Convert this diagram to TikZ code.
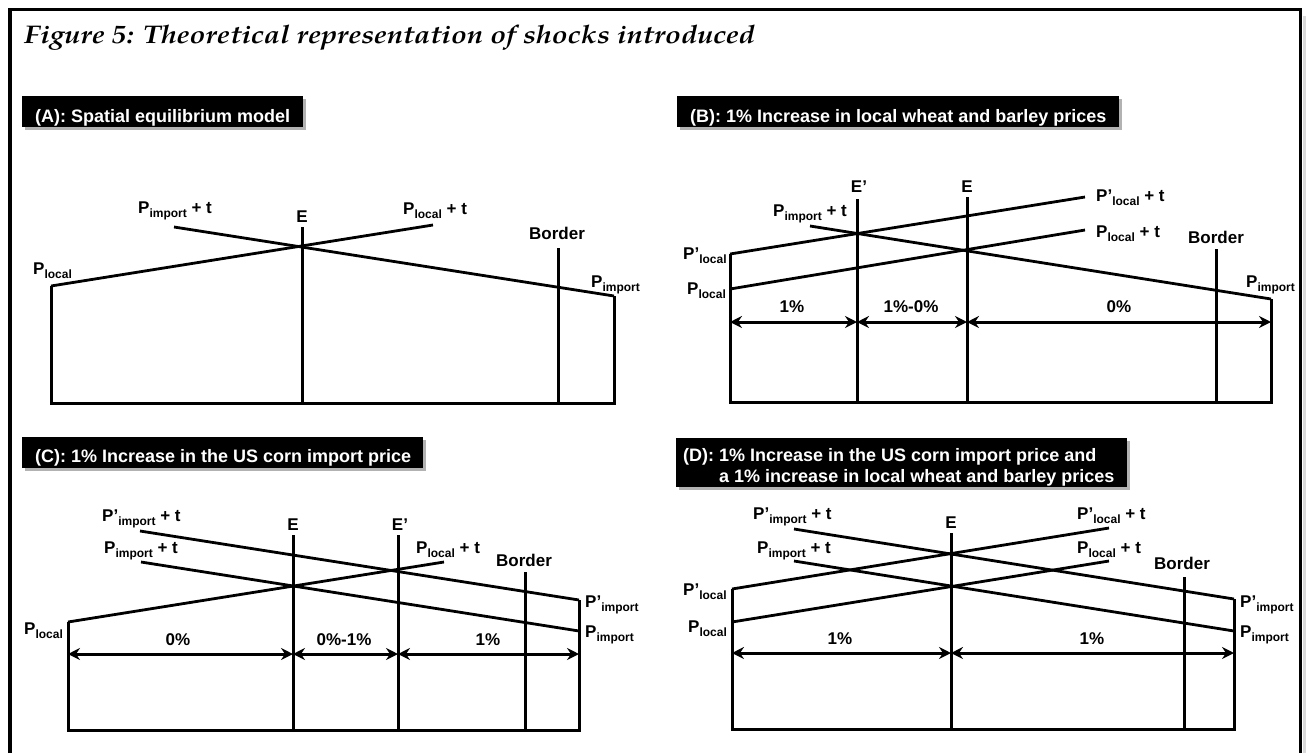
\documentclass[tikz,border=0pt]{standalone}
\usepackage{fontspec}
\setmainfont{Liberation Sans}
\newfontfamily\capfont[FakeStretch=1.13]{TeX Gyre Pagella}
\usetikzlibrary{arrows.meta,shadows}

\newcommand\lblfont{\fontsize{17}{20}\selectfont\bfseries}
\newcommand\hdrfont{\fontsize{18}{21}\selectfont\bfseries}
\newcommand\lo[1]{\raisebox{-4pt}{\fontsize{12}{12}\selectfont #1}}

\tikzset{
  wall/.style={line width=3pt},
  curve/.style={line width=2.8pt},
  dim/.style={line width=3pt, {Stealth[length=12pt,width=12pt,inset=4pt]}-{Stealth[length=12pt,width=12pt,inset=4pt]}},
  lbl/.style={anchor=base west, inner sep=0pt, font=\lblfont},
  clbl/.style={anchor=base, inner sep=0pt, font=\lblfont},
  hdr/.style={anchor=north west, fill=black, inner sep=0pt,
    drop shadow={shadow xshift=3pt, shadow yshift=-3pt, fill=gray!60, opacity=1}},
  hdrtxt/.style={anchor=base west, inner sep=0pt, text=white, font=\hdrfont},
}

\begin{document}
\begin{tikzpicture}[x=1pt, y=-1pt]
    \useasboundingbox (0,0) rectangle (1306,753);
    \fill[gray!30] (1302.5,16) rectangle (1306,753);
    \draw[line width=3.2pt] (10,753) -- (10,9.7) -- (1300.5,9.7) -- (1300.5,753);
    \node[anchor=base west, inner sep=0pt, font=\capfont\fontsize{25.5}{30}\selectfont\bfseries\itshape] (title) at (24,43)
        {Figure 5: Theoretical representation of shocks introduced};

    % panel A
    \node[hdr, minimum width=281pt, minimum height=31pt] (hdrA) at (22,96) {};
    \node[hdrtxt] (hdrAtxt) at (35,122) {(A): Spatial equilibrium model};
    \coordinate (aLt) at (51,286);  \coordinate (aLb) at (51,403);
    \coordinate (aRt) at (614,296); \coordinate (aRb) at (614,403);
    \coordinate (aEt) at (302,227); \coordinate (aEb) at (302,403);
    \coordinate (aBt) at (558,248); \coordinate (aBb) at (558,403);
    \coordinate (aLoc) at (433,225); \coordinate (aImp) at (174,227);
    \draw[wall] (aLt) -- (aLb) -- (aRb) -- (aRt);
    \draw[wall] (aEt) -- (aEb);
    \draw[wall] (aBt) -- (aBb);
    \draw[curve] (aLt) -- (aLoc);
    \draw[curve] (aImp) -- (aRt);
    \node[lbl] (aPl) at (33,274.5) {P\lo{local}};
    \node[lbl] (aPit) at (138,213) {P\lo{import} + t};
    \node[clbl] (aE) at (302,222) {E};
    \node[lbl] (aPlt) at (403,214) {P\lo{local} + t};
    \node[lbl] (aBor) at (529,239) {Border};
    \node[lbl] (aPi) at (591,287) {P\lo{import}};

    % panel B
    \node[hdr, minimum width=442pt, minimum height=31pt] (hdrB) at (677,96) {};
    \node[hdrtxt] (hdrBtxt) at (690,122) {(B): 1\% Increase in local wheat and barley prices};
    \coordinate (bLt) at (730,254);  \coordinate (bLb) at (730,402);
    \coordinate (bRt) at (1271,299); \coordinate (bRb) at (1271,402);
    \coordinate (bE1t) at (857,199); \coordinate (bE1b) at (857,402);
    \coordinate (bEt) at (967,197);  \coordinate (bEb) at (967,402);
    \coordinate (bBt) at (1216,249); \coordinate (bBb) at (1216,402);
    \coordinate (bLm) at (730,289);
    \coordinate (bLoc1) at (1085,197); \coordinate (bLoc) at (1085,230);
    \coordinate (bImp) at (810,226);
    \draw[wall] (bLt) -- (bLb) -- (bRb) -- (bRt);
    \draw[wall] (bE1t) -- (bE1b);
    \draw[wall] (bEt) -- (bEb);
    \draw[wall] (bBt) -- (bBb);
    \draw[curve] (bLt) -- (bLoc1);
    \draw[curve] (bLm) -- (bLoc);
    \draw[curve] (bImp) -- (bRt);
    \coordinate (bA0) at (730,322);  \coordinate (bA1) at (857,322);
    \coordinate (bA2) at (967,322);  \coordinate (bA3) at (1271,322);
    \draw[dim] (bA0) -- (bA1);
    \draw[dim] (bA1) -- (bA2);
    \draw[dim] (bA2) -- (bA3);
    \node[clbl] (bP1) at (792,312) {1\%};
    \node[clbl] (bP2) at (911,312) {1\%-0\%};
    \node[clbl] (bP3) at (1119,312) {0\%};
    \node[clbl] (bE1) at (859,192) {E’};
    \node[clbl] (bE) at (967,192) {E};
    \node[lbl] (bPl1t) at (1096,201) {P’\lo{local} + t};
    \node[lbl] (bPlt) at (1096,237) {P\lo{local} + t};
    \node[lbl] (bPit) at (773,216) {P\lo{import} + t};
    \node[lbl] (bBor) at (1188,243) {Border};
    \node[lbl] (bPl1) at (683,259) {P’\lo{local}};
    \node[lbl] (bPl) at (687,294) {P\lo{local}};
    \node[lbl] (bPi) at (1246,287) {P\lo{import}};

    % panel C
    \node[hdr, minimum width=401pt, minimum height=31pt] (hdrC) at (22,437) {};
    \node[hdrtxt] (hdrCtxt) at (35,462) {(C): 1\% Increase in the US corn import price};
    \coordinate (cLt) at (68,622);  \coordinate (cLb) at (68,730);
    \coordinate (cRt) at (579,600); \coordinate (cRb) at (579,730);
    \coordinate (cRm) at (579,631);
    \coordinate (cEt) at (293,535); \coordinate (cEb) at (293,730);
    \coordinate (cE1t) at (398,535); \coordinate (cE1b) at (398,730);
    \coordinate (cBt) at (525,572); \coordinate (cBb) at (525,730);
    \coordinate (cLoc) at (444,562);
    \coordinate (cImp1) at (140,531); \coordinate (cImp) at (141,562);
    \draw[wall] (cLt) -- (cLb) -- (cRb) -- (cRt);
    \draw[wall] (cEt) -- (cEb);
    \draw[wall] (cE1t) -- (cE1b);
    \draw[wall] (cBt) -- (cBb);
    \draw[curve] (cLt) -- (cLoc);
    \draw[curve] (cImp1) -- (cRt);
    \draw[curve] (cImp) -- (cRm);
    \coordinate (cA0) at (68,654);  \coordinate (cA1) at (293,654);
    \coordinate (cA2) at (398,654); \coordinate (cA3) at (579,654);
    \draw[dim] (cA0) -- (cA1);
    \draw[dim] (cA1) -- (cA2);
    \draw[dim] (cA2) -- (cA3);
    \node[clbl] (cP1) at (178,645) {0\%};
    \node[clbl] (cP2) at (344,645) {0\%-1\%};
    \node[clbl] (cP3) at (488,645) {1\%};
    \node[lbl] (cPi1t) at (102,521) {P’\lo{import} + t};
    \node[lbl] (cPit) at (104,553) {P\lo{import} + t};
    \node[clbl] (cE) at (293,530) {E};
    \node[clbl] (cE1) at (400,530) {E’};
    \node[lbl] (cPlt) at (416,553) {P\lo{local} + t};
    \node[lbl] (cBor) at (496,566) {Border};
    \node[lbl] (cPl) at (24,634) {P\lo{local}};
    \node[lbl] (cPi1) at (585,607) {P’\lo{import}};
    \node[lbl] (cPi) at (585,637) {P\lo{import}};

    % panel D
    \node[hdr, minimum width=451pt, minimum height=49pt] (hdrD) at (676,438) {};
    \node[hdrtxt] (hdrDtxt1) at (683,461) {(D): 1\% Increase in the US corn import price and};
    \node[hdrtxt] (hdrDtxt2) at (719,482) {a 1\% increase in local wheat and barley prices};
    \coordinate (dLt) at (732,589);  \coordinate (dLb) at (732,729);
    \coordinate (dLm) at (732,622);
    \coordinate (dRt) at (1234,599); \coordinate (dRb) at (1234,729);
    \coordinate (dRm) at (1234,631);
    \coordinate (dEt) at (951,533);  \coordinate (dEb) at (951,729);
    \coordinate (dBt) at (1184,577); \coordinate (dBb) at (1184,729);
    \coordinate (dLoc1) at (1109,528); \coordinate (dLoc) at (1109,561);
    \coordinate (dImp1) at (794,529);  \coordinate (dImp) at (794,561);
    \draw[wall] (dLt) -- (dLb) -- (dRb) -- (dRt);
    \draw[wall] (dEt) -- (dEb);
    \draw[wall] (dBt) -- (dBb);
    \draw[curve] (dLt) -- (dLoc1);
    \draw[curve] (dLm) -- (dLoc);
    \draw[curve] (dImp1) -- (dRt);
    \draw[curve] (dImp) -- (dRm);
    \coordinate (dA0) at (732,653); \coordinate (dA1) at (951,653);
    \coordinate (dA2) at (1234,653);
    \draw[dim] (dA0) -- (dA1);
    \draw[dim] (dA1) -- (dA2);
    \node[clbl] (dP1) at (840,644) {1\%};
    \node[clbl] (dP2) at (1092,644) {1\%};
    \node[lbl] (dPi1t) at (753,519) {P’\lo{import} + t};
    \node[lbl] (dPit) at (757,553) {P\lo{import} + t};
    \node[clbl] (dE) at (951,528) {E};
    \node[lbl] (dPl1t) at (1077,519) {P’\lo{local} + t};
    \node[lbl] (dPlt) at (1077,553) {P\lo{local} + t};
    \node[lbl] (dBor) at (1154,569) {Border};
    \node[lbl] (dPl1) at (683,595) {P’\lo{local}};
    \node[lbl] (dPl) at (688,632) {P\lo{local}};
    \node[lbl] (dPi1) at (1240,607) {P’\lo{import}};
    \node[lbl] (dPi) at (1240,637) {P\lo{import}};
\end{tikzpicture}
\end{document}
